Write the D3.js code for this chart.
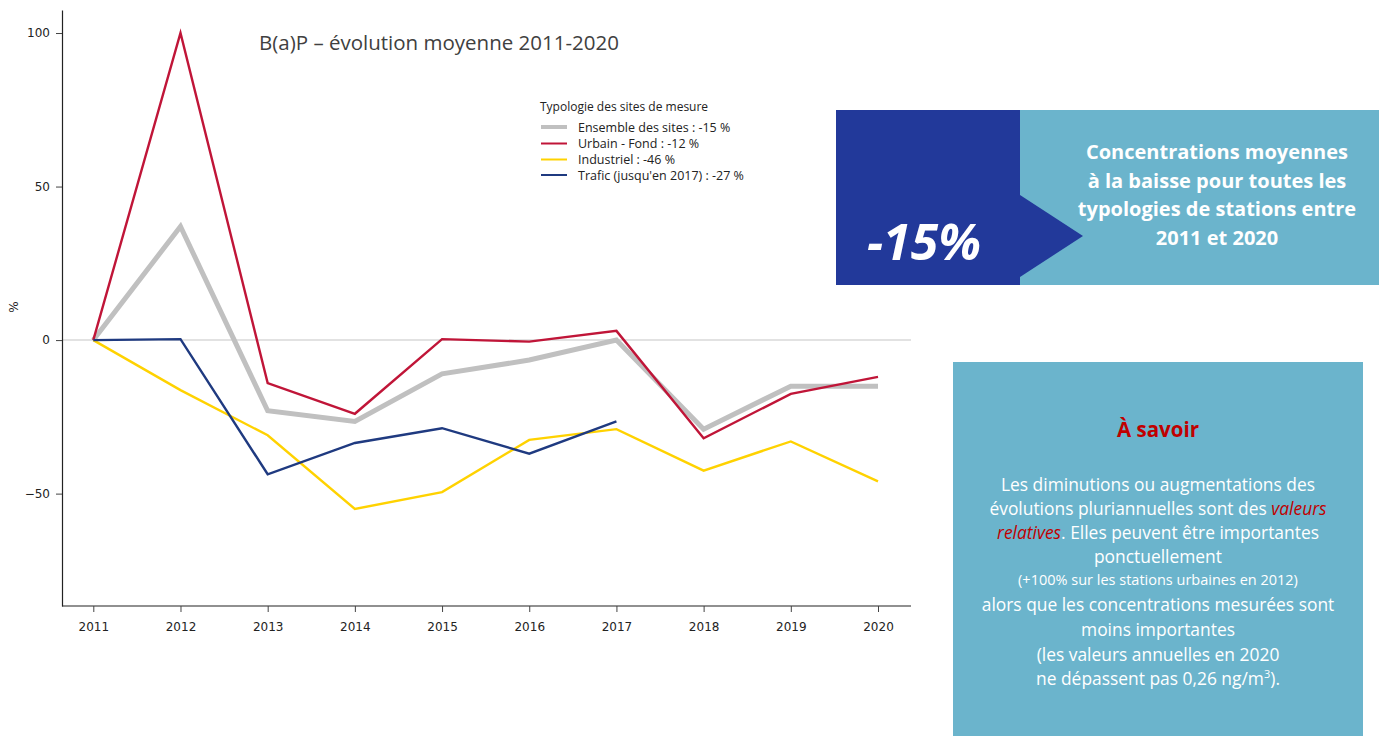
<!DOCTYPE html>
<html lang="fr">
<head>
<meta charset="utf-8">
<script src="https://cdn.jsdelivr.net/npm/d3@7"></script>
<style>
  html, body { margin: 0; padding: 0; background: #fff; }
  svg { display: block; }
</style>
</head>
<body>
<svg id="chart" width="1379" height="736"></svg>
<script>
// Years on the x axis
const years = [2011, 2012, 2013, 2014, 2015, 2016, 2017, 2018, 2019, 2020];

// Relative evolution (%) of B(a)P concentrations by site type, base 2011
const ensembleValues  = [0, 37, -23, -26.5, -11, -6.5, 0, -29, -15, -15];
const urbainValues    = [0, 100, -14, -24, 0.3, -0.5, 3, -32, -17.5, -12];
const industrielValues = [0, -16.3, -31, -55, -49.5, -32.5, -29, -42.5, -33, -46];
const traficValues    = [0, 0.3, -43.7, -33.5, -28.7, -37, -26.5]; // until 2017

const seriesNames = [
  "Ensemble des sites : -15 %",
  "Urbain - Fond : -12 %",
  "Industriel : -46 %",
  "Trafic (jusqu'en 2017) : -27 %"
];
const yTicks = [100, 50, 0, -50];

const series = [
  { name: seriesNames[0], values: ensembleValues,   color: "#c0c0c0", width: 5 },
  { name: seriesNames[1], values: urbainValues,     color: "#c01538", width: 2.4 },
  { name: seriesNames[2], values: industrielValues, color: "#ffd200", width: 2.4 },
  { name: seriesNames[3], values: traficValues,     color: "#1f3a80", width: 2.4 }
];

const svg = d3.select("#chart");

// Plot frame
const plotLeft = 62, plotRight = 911, plotTop = 10, plotBottom = 606;

const x = d3.scalePoint().domain(years).range([93.3, 878]);
const y = d3.scaleLinear().domain([-86.6, 107.5]).range([plotBottom, plotTop]);

const tickFont = "'DejaVu Sans', Verdana, sans-serif";
const textFont = "'Open Sans', 'Noto Sans', sans-serif";

// Zero reference line
svg.append("line")
  .attr("x1", plotLeft).attr("x2", plotRight)
  .attr("y1", y(0)).attr("y2", y(0))
  .attr("stroke", "#d9d9d9").attr("stroke-width", 1.5);

// Y axis
const yAxis = svg.append("g")
  .attr("transform", `translate(${plotLeft},0)`)
  .call(d3.axisLeft(y).tickValues(yTicks).tickSize(6).tickSizeOuter(0).tickPadding(6));
yAxis.select(".domain").attr("stroke", "#222").attr("stroke-width", 1.2);
yAxis.selectAll(".tick line").attr("stroke", "#444");
yAxis.selectAll("text").attr("font-family", tickFont).attr("font-size", 12).attr("fill", "#222");

// X axis
const xAxis = svg.append("g")
  .attr("transform", `translate(0,${plotBottom})`)
  .call(d3.axisBottom(x).tickSize(6).tickSizeOuter(0).tickPadding(10));
xAxis.select(".domain").attr("d", `M${plotLeft},0H${plotRight}`).attr("stroke", "#222").attr("stroke-width", 1.2);
xAxis.selectAll(".tick line").attr("stroke", "#444");
xAxis.selectAll("text").attr("font-family", tickFont).attr("font-size", 12).attr("fill", "#222");

// Y axis label
svg.append("text")
  .attr("transform", `translate(18,307) rotate(-90)`)
  .attr("text-anchor", "middle")
  .attr("font-family", tickFont).attr("font-size", 12).attr("fill", "#222")
  .text("%");

// Series lines
const line = d3.line()
  .x((d, i) => x(years[i]))
  .y(d => y(d))
  .curve(d3.curveLinear);

svg.append("g").selectAll("path")
  .data(series)
  .join("path")
  .attr("d", d => line(d.values))
  .attr("fill", "none")
  .attr("stroke", d => d.color)
  .attr("stroke-width", d => d.width)
  .attr("stroke-linejoin", "miter");

// Title
svg.append("text")
  .attr("x", 259).attr("y", 50)
  .attr("font-family", textFont)
  .attr("font-size", 20.5).attr("fill", "#404040")
  .text("B(a)P – évolution moyenne 2011-2020");

// Legend
const legend = svg.append("g").attr("transform", "translate(540,0)");
legend.append("text")
  .attr("x", 0).attr("y", 111)
  .attr("font-family", textFont)
  .attr("font-size", 12).attr("fill", "#222")
  .text("Typologie des sites de mesure");
const rowY = [127, 143.5, 159.5, 175];
const rows = legend.selectAll("g.row").data(series).join("g")
  .attr("class", "row")
  .attr("transform", (d, i) => `translate(0,${rowY[i]})`);
rows.append("line")
  .attr("x1", 1).attr("x2", 27)
  .attr("stroke", d => d.color)
  .attr("stroke-width", d => d.width === 5 ? 4 : 2);
rows.append("text")
  .attr("x", 38).attr("y", 4.5)
  .attr("font-family", textFont)
  .attr("font-size", 12.5).attr("fill", "#222")
  .text(d => d.name);

// Key figure panel
const dark = "#22399a", light = "#6bb4cc";
svg.append("rect").attr("x", 836).attr("y", 110).attr("width", 184).attr("height", 175).attr("fill", dark);
svg.append("rect").attr("x", 1020).attr("y", 110).attr("width", 359).attr("height", 175).attr("fill", light);
svg.append("path").attr("d", "M1020,195 L1083,236 L1020,277 Z").attr("fill", dark);

svg.append("text")
  .attr("x", 924).attr("y", 260)
  .attr("text-anchor", "middle")
  .attr("font-family", textFont)
  .attr("font-size", 50).attr("font-weight", 700).attr("font-style", "italic")
  .attr("fill", "#fff")
  .text("-15%");

const keyLines = [
  "Concentrations moyennes",
  "à la baisse pour toutes les",
  "typologies de stations entre",
  "2011 et 2020"
];
svg.append("g").selectAll("text").data(keyLines).join("text")
  .attr("x", 1217).attr("y", (d, i) => 159 + i * 28.5)
  .attr("text-anchor", "middle")
  .attr("font-family", textFont)
  .attr("font-size", 20).attr("font-weight", 700).attr("fill", "#fff")
  .text(d => d);

// Information panel
svg.append("rect").attr("x", 953).attr("y", 362).attr("width", 410).attr("height", 374).attr("fill", light);
const cx = 1158;
svg.append("text")
  .attr("x", cx).attr("y", 437)
  .attr("text-anchor", "middle")
  .attr("font-family", textFont).attr("font-size", 20.5).attr("font-weight", 700)
  .attr("fill", "#c00000")
  .text("À savoir");

const bodySize = 17.4;
const info = svg.append("g")
  .attr("font-family", textFont).attr("fill", "#fff").attr("text-anchor", "middle");

info.append("text").attr("x", cx).attr("y", 491).attr("font-size", bodySize)
  .text("Les diminutions ou augmentations des");
const l2 = info.append("text").attr("x", cx).attr("y", 515).attr("font-size", bodySize);
l2.append("tspan").text("évolutions pluriannuelles sont des ");
l2.append("tspan").attr("fill", "#c00000").attr("font-style", "italic").text("valeurs");
const l3 = info.append("text").attr("x", cx).attr("y", 539).attr("font-size", bodySize);
l3.append("tspan").attr("fill", "#c00000").attr("font-style", "italic").text("relatives");
l3.append("tspan").text(". Elles peuvent être importantes");
info.append("text").attr("x", cx).attr("y", 563).attr("font-size", bodySize)
  .text("ponctuellement");
info.append("text").attr("x", cx).attr("y", 585).attr("font-size", 14.5)
  .text("(+100% sur les stations urbaines en 2012)");
info.append("text").attr("x", cx).attr("y", 611).attr("font-size", bodySize)
  .text("alors que les concentrations mesurées sont");
info.append("text").attr("x", cx).attr("y", 636).attr("font-size", bodySize)
  .text("moins importantes");
info.append("text").attr("x", cx).attr("y", 661).attr("font-size", bodySize)
  .text("(les valeurs annuelles en 2020");
const l9 = info.append("text").attr("x", cx).attr("y", 685).attr("font-size", bodySize);
l9.append("tspan").text("ne dépassent pas 0,26 ng/m");
l9.append("tspan").attr("font-size", 11).attr("dy", -7).text("3");
l9.append("tspan").attr("dy", 7).text(").");
</script>
</body>
</html>
